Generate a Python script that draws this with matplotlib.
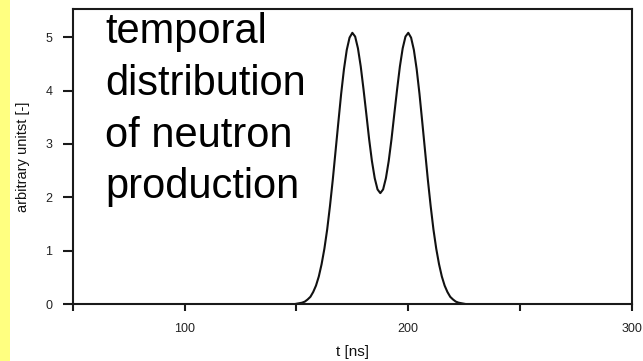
import numpy as np
import matplotlib.pyplot as plt
from matplotlib.patches import Rectangle

# time axis [ns] and neutron production (arbitrary units)
t_ns = [50, 147.5, 148.75, 150, 151.25, 152.5, 153.75, 155, 156.25, 157.5, 158.75,
        160, 161.25, 162.5, 163.75, 165, 166.25, 167.5, 168.75, 170, 171.25,
        172.5, 173.75, 175, 176.25, 177.5, 178.75, 180, 181.25, 182.5, 183.75,
        185, 186.25, 187.5, 188.75, 190, 191.25, 192.5, 193.75, 195, 196.25,
        197.5, 198.75, 200, 201.25, 202.5, 203.75, 205, 206.25, 207.5, 208.75,
        210, 211.25, 212.5, 213.75, 215, 216.25, 217.5, 218.75, 220, 221.25,
        222.5, 223.75, 225, 226.25, 227.5, 300]
neutrons = [0.0, 0.0, 0.0, 0.01, 0.02, 0.03, 0.05, 0.09, 0.14, 0.23, 0.35,
            0.52, 0.75, 1.04, 1.40, 1.84, 2.33, 2.87, 3.41, 3.94, 4.40,
            4.76, 4.99, 5.08, 5.01, 4.79, 4.45, 4.02, 3.56, 3.09, 2.68,
            2.36, 2.15, 2.08, 2.15, 2.36, 2.68, 3.09, 3.56, 4.02, 4.45,
            4.79, 5.01, 5.08, 4.99, 4.76, 4.40, 3.94, 3.41, 2.87, 2.33,
            1.84, 1.40, 1.04, 0.75, 0.52, 0.35, 0.23, 0.14, 0.09, 0.05,
            0.03, 0.02, 0.01, 0.0, 0.0, 0.0]

x_major = [100, 200, 300]
x_minor = [50, 150, 250]
y_ticks = [0, 1, 2, 3, 4, 5]

plt.rcParams["font.family"] = ["Liberation Sans", "DejaVu Sans"]

fig = plt.figure(figsize=(6.43, 3.61), dpi=100)
fig.patch.set_facecolor("white")
# yellow strip on the left edge
fig.add_artist(Rectangle((0, 0), 10 / 643, 1, transform=fig.transFigure,
                         facecolor="#ffff80", edgecolor="none"))

ax = fig.add_axes([72.7 / 643, 1 - 304.3 / 361, 559.3 / 643, 295 / 361])
ax.plot(t_ns, neutrons, color="#111111", linewidth=1.5, solid_capstyle="round")

ax.set_xlim(50, 300)
ax.set_ylim(0, 5.52)
ax.set_xticks(x_major)
ax.set_xticks(x_minor, minor=True)
ax.set_yticks(y_ticks)

for s in ax.spines.values():
    s.set_linewidth(1.5)
    s.set_color("#1a1a1a")

ax.tick_params(axis="x", which="both", direction="out", length=4.8, width=1.5,
               color="#1a1a1a", pad=9, labelsize=9, labelcolor="#222222")
ax.tick_params(axis="y", direction="out", length=7.2, width=1.5,
               color="#1a1a1a", pad=7.5, labelsize=9, labelcolor="#222222")

ax.set_xlabel("t [ns]", fontsize=11, color="#111111", labelpad=7)
ax.set_ylabel("arbitrary unitst [-]", fontsize=10.5, color="#111111", labelpad=11)

# big annotation, baseline of the last line
fig.text(105 / 643, 1 - 198.3 / 361,
         "temporal\ndistribution\nof neutron\nproduction",
         fontsize=30, color="black", va="baseline", ha="left", linespacing=1.375)

fig.savefig("out.png", dpi=100)
